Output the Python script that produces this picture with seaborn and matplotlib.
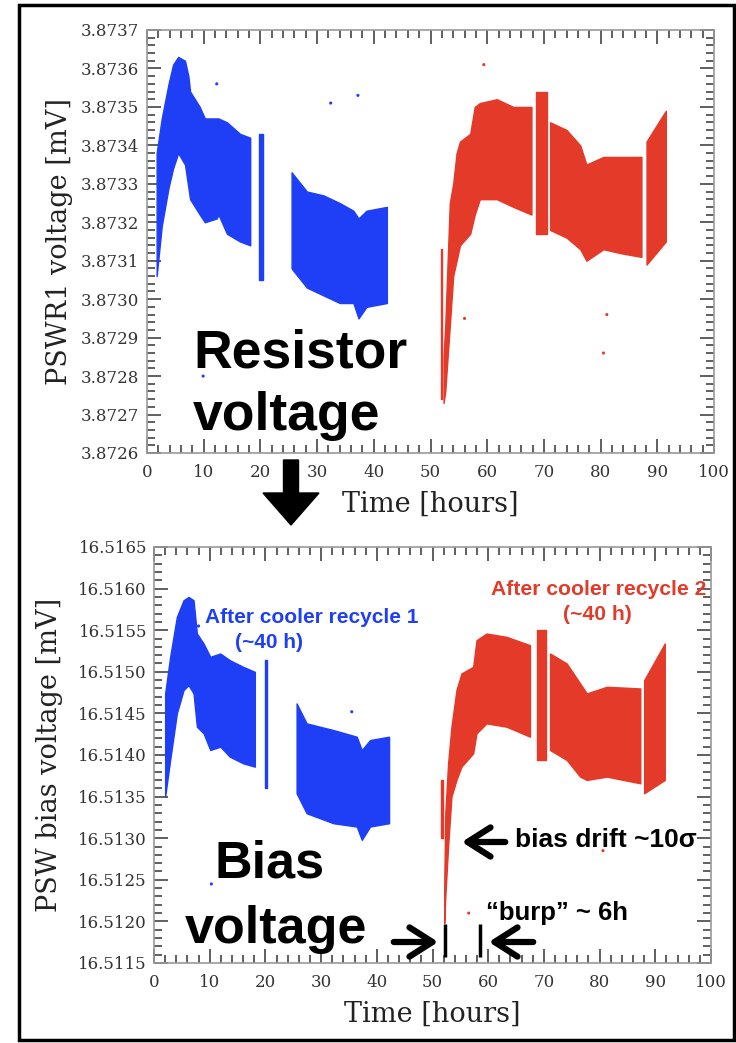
import pandas as pd
import seaborn as sns
import matplotlib.pyplot as plt
from matplotlib.patches import Rectangle, FancyArrow, FancyArrowPatch
from matplotlib.ticker import MultipleLocator, FormatStrFormatter

# ---------------- top panel: PSWR1 resistor voltage [mV] ----------------
# dense scatter band read off the picture as lower / upper envelope per segment
top_b1_t = [1.7, 2.6, 3.8, 4.6, 5.5, 6.7, 7.3, 7.6, 9.3, 10.2, 12.3, 12.6, 14.1, 16.4, 18.2]
top_b1_lo = [3.87306, 3.87319, 3.87329, 3.87334, 3.87338, 3.87335, 3.87329, 3.87326,
             3.87322, 3.87320, 3.87321, 3.87322, 3.87317, 3.87315, 3.87314]
top_b1_hi = [3.87338, 3.87347, 3.87356, 3.87361, 3.87363, 3.87362, 3.87358, 3.87354,
             3.87350, 3.87347, 3.87347, 3.87347, 3.87346, 3.87343, 3.87342]
top_b2_t = [19.7, 20.4]
top_b2_lo = [3.87305, 3.87305]
top_b2_hi = [3.87343, 3.87343]
top_b3_t = [25.5, 28.2, 31.1, 34.0, 36.4, 37.3, 38.7, 42.3]
top_b3_lo = [3.87308, 3.87303, 3.87301, 3.87299, 3.87299, 3.87295, 3.87298, 3.87299]
top_b3_hi = [3.87333, 3.87328, 3.87327, 3.87325, 3.87323, 3.87321, 3.87323, 3.87324]

top_r0_t = [51.8, 52.1]
top_r0_lo = [3.87274, 3.87274]
top_r0_hi = [3.87313, 3.87313]
top_r1_t = [52.3, 52.6, 53.4, 54.0, 54.6, 55.2, 57.0, 57.8, 58.7, 61.7, 64.6, 67.8]
top_r1_lo = [3.87273, 3.87276, 3.87293, 3.87306, 3.87310, 3.87314, 3.87317, 3.87322,
             3.87326, 3.87326, 3.87324, 3.87322]
top_r1_hi = [3.87285, 3.87293, 3.87325, 3.87330, 3.87338, 3.87341, 3.87343, 3.87350,
             3.87351, 3.87352, 3.87350, 3.87350]
top_r2_t = [68.6, 70.6]
top_r2_lo = [3.87317, 3.87317]
top_r2_hi = [3.87354, 3.87354]
top_r3_t = [71.1, 74.0, 76.4, 77.5, 80.5, 83.4, 87.2]
top_r3_lo = [3.87318, 3.87316, 3.87313, 3.87310, 3.87313, 3.87312, 3.87311]
top_r3_hi = [3.87346, 3.87344, 3.87340, 3.87335, 3.87337, 3.87337, 3.87337]
top_r4_t = [88.1, 91.5]
top_r4_lo = [3.87309, 3.87315]
top_r4_hi = [3.87341, 3.87349]

# a few stray points outside the bands
top_out_t = [12.3, 32.4, 37.2, 9.9, 56.0, 80.5, 81.1, 59.4]
top_out_v = [3.87356, 3.87351, 3.87353, 3.87280, 3.87295, 3.87286, 3.87296, 3.87361]
top_out_run = ["1", "1", "1", "1", "2", "2", "2", "2"]

# ---------------- bottom panel: PSW bias voltage [mV] ----------------
bot_b1_t = [2.0, 2.9, 4.1, 5.3, 6.2, 7.1, 7.7, 8.9, 10.1, 11.9, 13.6, 16.0, 18.1]
bot_b1_lo = [16.51350, 16.51394, 16.51450, 16.51478, 16.51484, 16.51474, 16.51434,
             16.51426, 16.51406, 16.51410, 16.51398, 16.51390, 16.51386]
bot_b1_hi = [16.51474, 16.51518, 16.51566, 16.51586, 16.51590, 16.51586, 16.51546,
             16.51534, 16.51518, 16.51522, 16.51514, 16.51506, 16.51500]
bot_b2_t = [19.9, 20.3]
bot_b2_lo = [16.51360, 16.51360]
bot_b2_hi = [16.51514, 16.51514]
bot_b3_t = [25.6, 27.4, 32.2, 36.4, 37.3, 38.8, 42.2]
bot_b3_lo = [16.51354, 16.51330, 16.51318, 16.51314, 16.51298, 16.51314, 16.51318]
bot_b3_hi = [16.51462, 16.51438, 16.51430, 16.51422, 16.51406, 16.51418, 16.51422]

bot_r0_t = [51.5, 51.8]
bot_r0_lo = [16.51300, 16.51300]
bot_r0_hi = [16.51370, 16.51370]
bot_r1_t = [52.1, 52.3, 52.8, 53.4, 54.3, 55.2, 57.3, 57.9, 59.7, 63.3, 67.5]
bot_r1_lo = [16.51198, 16.51230, 16.51290, 16.51350, 16.51370, 16.51386, 16.51402,
             16.51426, 16.51438, 16.51434, 16.51422]
bot_r1_hi = [16.51240, 16.51330, 16.51390, 16.51434, 16.51478, 16.51498, 16.51506,
             16.51538, 16.51546, 16.51542, 16.51532]
bot_r2_t = [68.8, 70.4]
bot_r2_lo = [16.51394, 16.51394]
bot_r2_hi = [16.51550, 16.51550]
bot_r3_t = [71.1, 74.1, 76.5, 77.7, 81.3, 87.3]
bot_r3_lo = [16.51406, 16.51394, 16.51374, 16.51370, 16.51374, 16.51366]
bot_r3_hi = [16.51522, 16.51510, 16.51486, 16.51474, 16.51482, 16.51480]
bot_r4_t = [88.0, 91.7]
bot_r4_lo = [16.51354, 16.51370]
bot_r4_hi = [16.51490, 16.51534]

bot_out_t = [8.0, 10.3, 35.5, 56.5, 80.6]
bot_out_v = [16.51555, 16.51245, 16.51452, 16.51210, 16.51285]
bot_out_run = ["1", "1", "1", "2", "2"]

burp_start, burp_end = 52.2, 58.6

BLUE = "#1f3ff7"
RED = "#e43a29"
palette = {"1": BLUE, "2": RED}

sns.set_style("ticks")
plt.rcParams["font.family"] = ["DejaVu Serif"]
plt.rcParams.update({
    "xtick.direction": "in", "ytick.direction": "in",
    "xtick.top": True, "ytick.right": True,
    "xtick.minor.visible": True, "ytick.minor.visible": True,
})
SANS = ["Liberation Sans", "DejaVu Sans"]

W, H = 736, 1043
fig = plt.figure(figsize=(W / 100, H / 100), dpi=100)


def box(l, t, r, b):
    return [l / W, 1 - b / H, (r - l) / W, (b - t) / H]


ax1 = fig.add_axes(box(147, 30, 714, 453))
ax2 = fig.add_axes(box(154, 547, 711, 963))

top_segments = [
    (top_b1_t, top_b1_lo, top_b1_hi, BLUE), (top_b2_t, top_b2_lo, top_b2_hi, BLUE),
    (top_b3_t, top_b3_lo, top_b3_hi, BLUE), (top_r0_t, top_r0_lo, top_r0_hi, RED),
    (top_r1_t, top_r1_lo, top_r1_hi, RED), (top_r2_t, top_r2_lo, top_r2_hi, RED),
    (top_r3_t, top_r3_lo, top_r3_hi, RED), (top_r4_t, top_r4_lo, top_r4_hi, RED),
]
bot_segments = [
    (bot_b1_t, bot_b1_lo, bot_b1_hi, BLUE), (bot_b2_t, bot_b2_lo, bot_b2_hi, BLUE),
    (bot_b3_t, bot_b3_lo, bot_b3_hi, BLUE), (bot_r0_t, bot_r0_lo, bot_r0_hi, RED),
    (bot_r1_t, bot_r1_lo, bot_r1_hi, RED), (bot_r2_t, bot_r2_lo, bot_r2_hi, RED),
    (bot_r3_t, bot_r3_lo, bot_r3_hi, RED), (bot_r4_t, bot_r4_lo, bot_r4_hi, RED),
]

for ax, segs in [(ax1, top_segments), (ax2, bot_segments)]:
    for t, lo, hi, c in segs:
        ax.fill_between(t, lo, hi, color=c, lw=1.0, edgecolor=c, zorder=1)

df_top = pd.DataFrame({"t": top_out_t, "v": top_out_v, "run": top_out_run})
df_bot = pd.DataFrame({"t": bot_out_t, "v": bot_out_v, "run": bot_out_run})
sns.scatterplot(data=df_top, x="t", y="v", hue="run", palette=palette, s=5,
                linewidth=0, legend=False, ax=ax1)
sns.scatterplot(data=df_bot, x="t", y="v", hue="run", palette=palette, s=5,
                linewidth=0, legend=False, ax=ax2)

ax1.set_ylim(3.8726, 3.8737)
ax2.set_ylim(16.5115, 16.5165)
ax1.yaxis.set_major_locator(MultipleLocator(0.0001))
ax1.yaxis.set_minor_locator(MultipleLocator(0.00002))
ax2.yaxis.set_major_locator(MultipleLocator(0.0005))
ax2.yaxis.set_minor_locator(MultipleLocator(0.0001))

for ax in (ax1, ax2):
    ax.set_xlim(0, 100)
    ax.xaxis.set_major_locator(MultipleLocator(10))
    ax.xaxis.set_minor_locator(MultipleLocator(2))
    ax.yaxis.set_major_formatter(FormatStrFormatter("%.4f"))
    ax.tick_params(which="both", direction="in", top=True, right=True,
                   bottom=True, left=True, color="#444444", labelcolor="#333333",
                   labelsize=12, width=1.2, zorder=5)
    ax.tick_params(which="major", length=10)
    ax.tick_params(which="minor", length=5.5)
    ax.tick_params(axis="x", pad=8)
    for s in ax.spines.values():
        s.set_color("#999999")
        s.set_linewidth(1.2)
    ax.set_xlabel("Time [hours]", fontsize=19.5, color="#222222", labelpad=7)

ax1.tick_params(axis="y", pad=6)
ax2.tick_params(axis="y", pad=5)
ax1.set_ylabel("PSWR1 voltage [mV]", fontsize=19.5, color="#222222")
ax2.set_ylabel("PSW bias voltage [mV]", fontsize=19.5, color="#222222")
ax1.yaxis.set_label_coords(-0.131, 0.5)
ax2.yaxis.set_label_coords(-0.163, 0.5)

# ---------------- annotations ----------------
def ftext(px, py, s, **kw):
    kw.setdefault("color", "black")
    fig.text(px / W, 1 - py / H, s, va="baseline", fontweight="bold", family=SANS, **kw)


ftext(193, 368, "Resistor", fontsize=38.5)
ftext(193, 430, "voltage", fontsize=38.5)
ftext(215, 878, "Bias", fontsize=37.5)
ftext(185, 943, "voltage", fontsize=37.5)

ftext(205, 623, "After cooler recycle 1", fontsize=15, color=BLUE)
ftext(269, 648, "(~40 h)", fontsize=15, color=BLUE, ha="center")
ftext(491, 595, "After cooler recycle 2", fontsize=15.2, color=RED)
ftext(597, 620, "(~40 h)", fontsize=15.2, color=RED, ha="center")

ftext(515, 847, "bias drift ~10σ", fontsize=19)
ftext(486, 920, "\u201cburp\u201d ~ 6h", fontsize=18.5)


def farrow(x0, y0, x1, y1):
    fig.add_artist(FancyArrowPatch(
        (x0 / W, 1 - y0 / H), (x1 / W, 1 - y1 / H), transform=fig.transFigure,
        arrowstyle="->,head_length=0.55,head_width=0.35", lw=4.5, color="black",
        mutation_scale=30))


farrow(508, 842, 459, 842)
farrow(391, 942, 441, 942)
farrow(536, 942, 486, 942)
ax2.vlines([burp_start, burp_end], 16.51157, 16.51197, color="black", lw=2.5)

# big arrow between the panels
fig.add_artist(FancyArrow(2.91, (H - 460) / 100, 0, -0.33, width=0.15, head_width=0.56,
                          head_length=0.32, length_includes_head=False,
                          transform=fig.dpi_scale_trans, color="black"))

# outer frame
fig.add_artist(Rectangle((19 / W, 1 - 1040 / H), (734 - 19) / W, (1040 - 5) / H,
                         transform=fig.transFigure, fill=False, lw=2.5, color="black"))

fig.savefig("out.png", dpi=100)
